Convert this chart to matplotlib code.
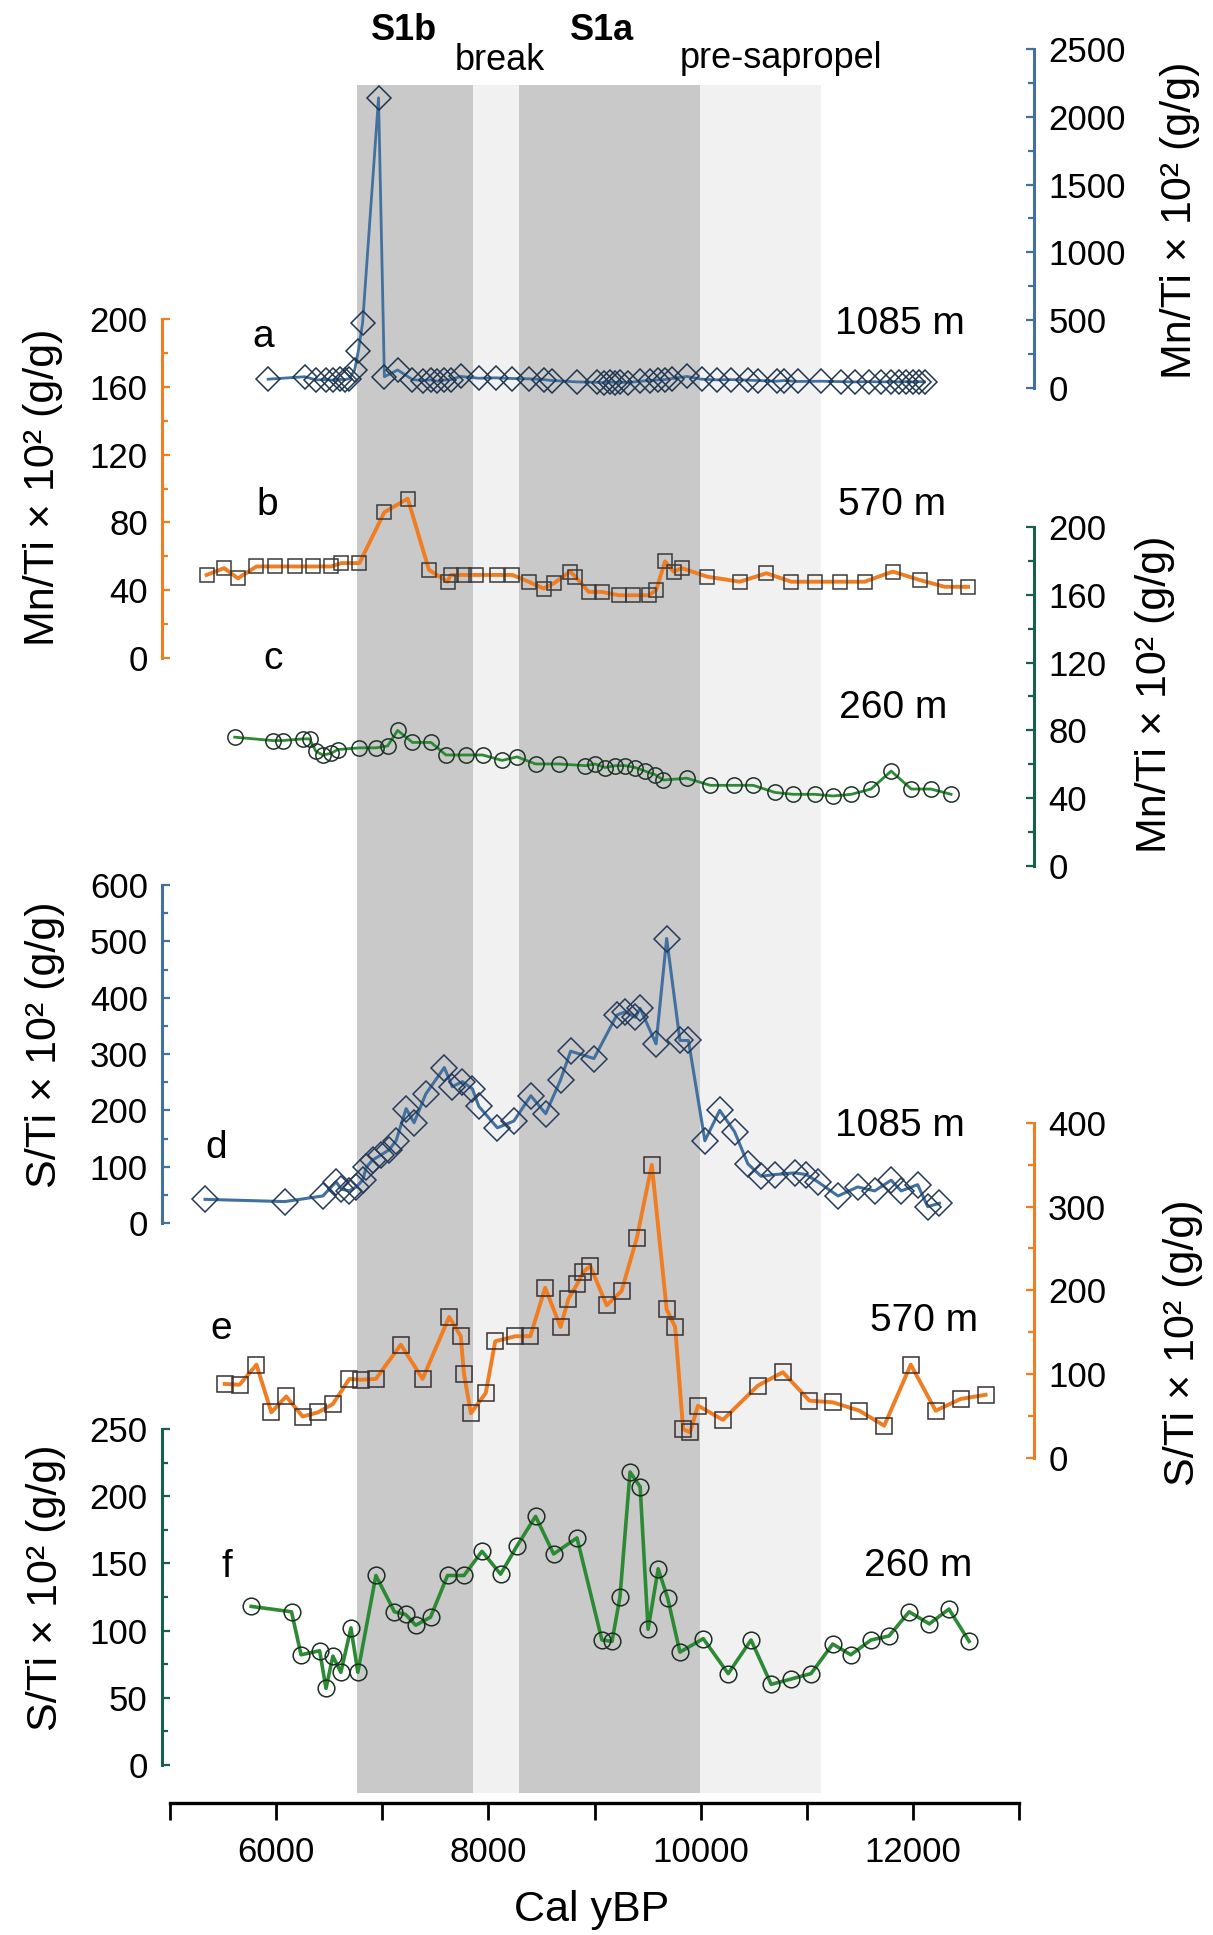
import numpy as np
import matplotlib
matplotlib.use("Agg")
import matplotlib.pyplot as plt
from matplotlib.ticker import MultipleLocator

plt.rcParams['font.family'] = ['Liberation Sans', 'DejaVu Sans']

# --- zones (Cal yBP) ---
zone_start = [6760, 7855, 8285, 9995]
zone_end = [7855, 8285, 9995, 11130]
zone_col = ['#c9c9c9', '#f1f1f1', '#c9c9c9', '#f1f1f1']

# --- a: Mn/Ti 1085 m ---
a_year = [5925, 6270, 6375, 6470, 6535, 6600, 6645, 6690, 6740, 6775, 6815, 6965,
          7020, 7145, 7285, 7380, 7455, 7520, 7585, 7645, 7740, 7910, 8070, 8225,
          8380, 8520, 8600, 8835, 9020, 9085, 9150, 9195, 9240, 9320, 9430, 9525,
          9600, 9665, 9730, 9870, 10010, 10150, 10290, 10445, 10540, 10715, 10790,
          10915, 11135, 11320, 11450, 11590, 11700, 11795, 11870, 11935, 12000,
          12060, 12110]
a_val = [65, 83, 60, 62, 58, 64, 60, 70, 133, 275, 480, 2140,
         83, 133, 62, 55, 60, 50, 58, 62, 85, 72, 75, 70,
         68, 62, 55, 45, 42, 40, 45, 40, 42, 40, 50, 55,
         60, 62, 70, 85, 65, 60, 62, 58, 55, 50, 55,
         48, 50, 47, 45, 47, 45, 47, 45, 47, 45,
         47, 45]

# --- b: Mn/Ti 570 m ---
b_year = [5345, 5510, 5640, 5815, 5985, 6175, 6345, 6520, 6615, 6785, 7020, 7240,
          7440, 7615, 7645, 7770, 7880, 8085, 8225, 8380, 8520, 8615, 8770, 8820,
          8945, 9070, 9230, 9365, 9510, 9580, 9665, 9745, 9825, 10060, 10370, 10620,
          10855, 11075, 11310, 11545, 11810, 12065, 12300, 12520]
b_val = [49, 53, 47, 54, 54, 54, 54, 54, 56, 56, 86, 94,
         52, 45, 49, 49, 49, 49, 49, 45, 41, 44, 51, 48,
         39, 39, 37, 37, 37, 40, 57, 51, 53, 48, 45, 50,
         45, 45, 45, 45, 51, 46, 42, 42]

# --- c: Mn/Ti 260 m ---
c_year = [5610, 5970, 6065, 6250, 6315, 6375, 6440, 6520, 6580, 6785, 6940, 7050,
          7145, 7285, 7460, 7600, 7785, 7945, 8130, 8270, 8445, 8665, 8915, 9005,
          9100, 9195, 9290, 9385, 9475, 9570, 9650, 9870, 10090, 10310, 10495, 10700,
          10870, 11075, 11250, 11420, 11605, 11795, 11985, 12170, 12360]
c_val = [76, 74, 74, 75, 75, 67.6, 65.5, 66.5, 68.7, 69.7, 69.7, 70.8,
         80, 72.9, 72.9, 65.5, 65.5, 65.5, 62.3, 64.4, 60.2, 60.2, 59.2, 60.2,
         58.1, 59.2, 59.2, 58.1, 56, 53.9, 50.7, 51.8, 47.6, 47.6, 47.6, 43.4,
         42.3, 42.3, 41.3, 42.3, 45.4, 56, 45.4, 45.4, 42.3]

# --- d: S/Ti 1085 m ---
d_year = [5330, 6080, 6440, 6565, 6615, 6690, 6755, 6815, 6850, 6910, 6990, 7065,
          7130, 7225, 7300, 7410, 7585, 7660, 7755, 7850, 7910, 8085, 8240, 8400,
          8540, 8680, 8775, 8995, 9210, 9290, 9385, 9430, 9580, 9680, 9805, 9885,
          10040, 10180, 10320, 10445, 10570, 10700, 10885, 10995, 11105, 11295,
          11480, 11640, 11795, 11890, 12045, 12140, 12250]
d_val = [42, 38, 48, 73, 60, 57, 64, 76, 99, 112, 121, 130,
         146, 203, 178, 229, 276, 242, 251, 238, 207, 169, 181, 226,
         194, 254, 305, 292, 369, 375, 365, 381, 318, 505, 324, 324,
         146, 200, 162, 105, 83, 86, 89, 86, 73, 48,
         64, 57, 76, 57, 68, 29, 35]

# --- e: S/Ti 570 m ---
e_year = [5515, 5655, 5815, 5955, 6095, 6250, 6395, 6535, 6690, 6800, 6940, 7175,
          7380, 7630, 7740, 7770, 7835, 7975, 8065, 8255, 8395, 8535, 8680, 8755,
          8835, 8895, 8960, 9115, 9255, 9400, 9540, 9680, 9760, 9835, 9900, 9975,
          10210, 10540, 10775, 11025, 11245, 11495, 11730, 11980, 12215, 12450, 12685]
e_val = [88, 87, 111, 54, 73, 49, 54, 64, 94, 93, 94, 135,
         94, 168, 145, 100, 53, 77, 139, 145, 145, 203, 156, 190,
         207, 222, 229, 182, 199, 263, 350, 177, 156, 34, 30, 62,
         45, 86, 102, 68, 66, 56, 38, 111, 56, 70, 75]

# --- f: S/Ti 260 m ---
f_year = [5765, 6145, 6235, 6410, 6470, 6535, 6610, 6705, 6770, 6940, 7115, 7220,
          7315, 7455, 7615, 7770, 7940, 8115, 8270, 8445, 8615, 8835, 9070, 9165,
          9240, 9335, 9430, 9505, 9600, 9690, 9805, 10025, 10260, 10475, 10665, 10855,
          11040, 11245, 11415, 11605, 11775, 11965, 12155, 12340, 12530]
f_val = [118, 114, 82, 85, 57, 81, 69, 102, 69, 141, 114, 112,
         104, 110, 141, 141, 159, 142, 163, 185, 157, 169, 93, 92,
         125, 218, 207, 101, 146, 124, 84, 94, 68, 93, 60, 64,
         68, 90, 82, 93, 96, 114, 105, 116, 92]

x_ticks = list(range(5000, 13001, 1000))
x_labels = ['' if t % 2000 else str(t) for t in x_ticks]

BLUE = '#42709f'
ORANGE = '#f07d22'
GREEN_AX = '#17604f'
GREEN = '#2c8a34'

W, H = 1213, 1935


def box(x0, x1, ytop, ybot):
    return [x0 / W, 1 - ybot / H, (x1 - x0) / W, (ybot - ytop) / H]


def ftext(x, y, s, **kw):
    fig.text(x / W, 1 - y / H, s, ha='center', va='center', **kw)


fig = plt.figure(figsize=(W / 100, H / 100), dpi=100)

# bottom axis + shaded zones
base = fig.add_axes(box(170, 1019, 85, 1803))
base.set_xlim(5000, 13000)
base.set_ylim(0, 1)
for s, e, c in zip(zone_start, zone_end, zone_col):
    base.axvspan(s, e, ymin=0.006, ymax=1, color=c, lw=0, zorder=0)
for s in ['top', 'left', 'right']:
    base.spines[s].set_visible(False)
base.spines['bottom'].set_linewidth(2.4)
base.set_yticks([])
base.set_xticks(x_ticks)
base.set_xticklabels(x_labels)
base.tick_params(axis='x', direction='out', length=12, width=2, pad=12, labelsize=25)


def panel(ytop, yzero, top, years, vals, side, spine_col, line_col, marker, ms,
          major, minor, edge, lw):
    ax = fig.add_axes(box(170, 1019, ytop, yzero))
    ax.set_facecolor('none')
    ax.set_xlim(5000, 13000)
    ax.set_ylim(0, top)
    ax.plot(years, vals, color=line_col, lw=lw, marker=marker, ms=ms,
            mfc='none', mec=edge, mew=1.1, clip_on=False)
    for s in ['top', 'bottom', 'left', 'right']:
        ax.spines[s].set_visible(s == side)
    ax.spines[side].set_color(spine_col)
    ax.spines[side].set_linewidth(2.2)
    ax.spines[side].set_position(('outward', 6 if side == 'left' else 11))
    ax.set_xticks([])
    ax.yaxis.set_ticks_position(side)
    ax.yaxis.set_major_locator(MultipleLocator(major))
    ax.yaxis.set_minor_locator(MultipleLocator(minor))
    ax.tick_params(axis='y', which='both', direction='in', color=spine_col,
                   width=1.6, labelsize=25, pad=10)
    ax.tick_params(axis='y', which='major', length=6)
    ax.tick_params(axis='y', which='minor', length=4)
    return ax


panel(49, 388, 2500, a_year, a_val, 'right', BLUE, BLUE, 'D', 12, 500, 250, '#1f3550', 2.0)
panel(319, 658, 200, b_year, b_val, 'left', ORANGE, ORANGE, 's', 10, 40, 20, '#3a3a3a', 2.8)
panel(527, 866, 200, c_year, c_val, 'right', GREEN_AX, GREEN, 'o', 11, 40, 20, '#1e3326', 2.0)
panel(885, 1223, 600, d_year, d_val, 'left', BLUE, BLUE, 'D', 13, 100, 50, '#263a5a', 2.2)
panel(1123, 1457.5, 400, e_year, e_val, 'right', ORANGE, ORANGE, 's', 11, 100, 50, '#3a3030', 2.8)
panel(1429, 1765, 250, f_year, f_val, 'left', GREEN_AX, GREEN, 'o', 12, 50, 25, '#1e2e22', 2.6)

# zone names
ftext(404, 30, 'S1b', fontsize=26, fontweight='bold')
ftext(500, 60, 'break', fontsize=26)
ftext(602, 30, 'S1a', fontsize=26, fontweight='bold')
ftext(781, 59, 'pre-sapropel', fontsize=26)

# panel letters and depths
for x, y, s in [(263, 337, 'a'), (267, 505, 'b'), (273, 659, 'c'),
                (216, 1148, 'd'), (221, 1329, 'e'), (227, 1567, 'f')]:
    ftext(x, y, s, fontsize=28)
for x, y, s in [(900, 324, '1085 m'), (892, 505, '570 m'), (893, 708, '260 m'),
                (900, 1126, '1085 m'), (924, 1321, '570 m'), (918, 1566, '260 m')]:
    ftext(x, y, s, fontsize=28)

# axis titles
mn = 'Mn/Ti × 10² (g/g)'
st = 'S/Ti × 10² (g/g)'
ftext(1180, 220, mn, fontsize=31, rotation=90)
ftext(43, 487, mn, fontsize=31, rotation=90)
ftext(1155, 694, mn, fontsize=31, rotation=90)
ftext(45, 1045, st, fontsize=31, rotation=90)
ftext(1183, 1343, st, fontsize=31, rotation=90)
ftext(46, 1588, st, fontsize=31, rotation=90)
ftext(592, 1910, 'Cal yBP', fontsize=31)

fig.savefig('out.png', dpi=100)
